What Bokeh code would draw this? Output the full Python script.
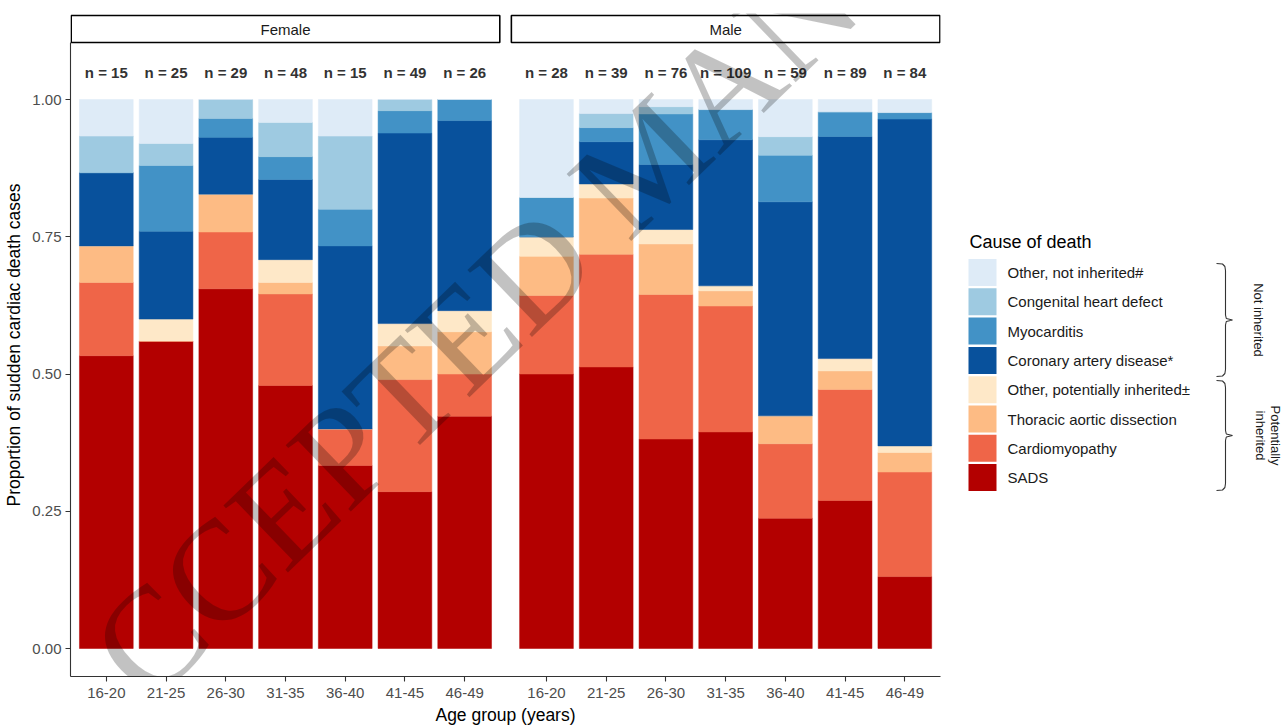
import math
from bokeh.plotting import figure
from bokeh.layouts import row
from bokeh.models import ColumnDataSource, Range1d, FixedTicker, NumeralTickFormatter, Label
from bokeh.embed import file_html
from bokeh.resources import INLINE
from bokeh.core.properties import value

# ---------------- data ----------------
ages = ["16-20", "21-25", "26-30", "31-35", "36-40", "41-45", "46-49"]
panels = ["Female", "Male"]

# stacking order, bottom -> top
causes = ["SADS", "Cardiomyopathy", "Thoracic aortic dissection",
          "Other, potentially inherited\u00b1", "Coronary artery disease*",
          "Myocarditis", "Congenital heart defect", "Other, not inherited#"]
cause_colors = ["#b30000", "#ef6548", "#fdbb84", "#fee8c8",
                "#08519c", "#4292c6", "#9ecae1", "#deebf7"]

# case counts per age group (consistent with the n labels)
female_sads = [8, 14, 19, 23, 5, 14, 11]
female_cardiomyopathy = [2, 0, 3, 8, 1, 10, 2]
female_aortic = [1, 0, 2, 1, 0, 3, 2]
female_other_inherited = [0, 1, 0, 2, 0, 2, 1]
female_cad = [2, 4, 3, 7, 5, 17, 9]
female_myocarditis = [0, 3, 1, 2, 1, 2, 1]
female_chd = [1, 1, 1, 3, 2, 1, 0]
female_other_not = [1, 2, 0, 2, 1, 0, 0]

male_sads = [14, 20, 29, 43, 14, 24, 11]
male_cardiomyopathy = [4, 8, 20, 25, 8, 18, 16]
male_aortic = [2, 4, 7, 3, 3, 3, 3]
male_other_inherited = [1, 1, 2, 1, 0, 2, 1]
male_cad = [0, 3, 9, 29, 23, 36, 50]
male_myocarditis = [2, 1, 7, 6, 5, 4, 1]
male_chd = [0, 1, 1, 0, 2, 0, 0]
male_other_not = [5, 1, 1, 2, 4, 2, 2]

female_counts = [female_sads, female_cardiomyopathy, female_aortic, female_other_inherited,
                 female_cad, female_myocarditis, female_chd, female_other_not]
male_counts = [male_sads, male_cardiomyopathy, male_aortic, male_other_inherited,
               male_cad, male_myocarditis, male_chd, male_other_not]

bracket_groups = ["Not inherited", "Potentially inherited"]

# ---------------- geometry ----------------
W1, W2, H = 945, 342, 728
BL, BR, BT, BB = 70, 5, 13, 52
frame_w = W1 - BL - BR          # 870
frame_h = H - BT - BB           # 663
PXU = 430 / 7.2                 # pixels per category unit
PYU = 549.0                     # pixels per proportion unit
y0 = -28 / PYU
y1 = y0 + frame_h / PYU
x0 = 0.4
x1 = x0 + frame_w / PXU
male_offset = round(440 / PXU, 2)

strip_bottom = (648 - 42) / PYU
strip_top = (648 - 15) / PYU
n_y = (648 - 72) / PYU

FONT = "Liberation Sans"

p = figure(width=W1, height=H, output_backend="svg", toolbar_location=None,
           x_range=Range1d(x0, x1), y_range=Range1d(y0, y1),
           min_border_left=BL, min_border_right=BR, min_border_top=BT, min_border_bottom=BB,
           outline_line_color=None, background_fill_color="white", border_fill_color="white")
# page-pixel ranges (for the watermark)
p.extra_x_ranges = {"px": Range1d(BL, BL + frame_w)}
p.extra_y_ranges = {"py": Range1d(BT + frame_h, BT)}

p.xgrid.visible = False
p.ygrid.visible = False

tick_vals = []
tick_over = {}
for sex, counts, off in (("Female", female_counts, 0.0), ("Male", male_counts, male_offset)):
    n = [sum(c[i] for c in counts) for i in range(len(ages))]
    xs = [i + 1 + off for i in range(len(ages))]
    data = {"x": xs}
    for cause, c in zip(causes, counts):
        data[cause] = [c[i] / n[i] for i in range(len(ages))]
    src = ColumnDataSource(data)
    p.vbar_stack(causes, x="x", width=0.9, color=cause_colors, source=src, line_width=0.5)
    p.text(x=xs, y=[n_y] * len(xs), text=[f"n = {v}" for v in n],
           text_align="center", text_baseline="middle", text_font=value(FONT),
           text_font_size="15px", text_font_style="bold", text_color="#333333")
    # facet strip
    p.quad(left=[x0 + off + 0.012], right=[7.6 + off - 0.012], bottom=[strip_bottom], top=[strip_top],
           fill_color="white", line_color="black", line_width=1.6)
    p.text(x=[4.0 + off], y=[(strip_bottom + strip_top) / 2], text=[sex],
           text_align="center", text_baseline="middle", text_font=value(FONT),
           text_font_size="15px", text_color="#1a1a1a")
    for x, a in zip(xs, ages):
        tick_vals.append(x)
        tick_over[x] = a

# ---------------- axes ----------------
xa = p.xaxis[0]
xa.ticker = FixedTicker(ticks=tick_vals)
xa.major_label_overrides = tick_over
xa.bounds = (x0, 7.6 + male_offset)
xa.axis_label = "Age group (years)"
ya = p.yaxis[0]
ya.ticker = FixedTicker(ticks=[0, 0.25, 0.5, 0.75, 1.0])
ya.formatter = NumeralTickFormatter(format="0.00")
ya.bounds = (y0, strip_bottom)
ya.axis_label = "Proportion of sudden cardiac death cases"
for ax in (xa, ya):
    ax.axis_line_color = "#333333"
    ax.axis_line_width = 1.1
    ax.major_tick_line_color = "#333333"
    ax.major_tick_line_width = 1.1
    ax.major_tick_out = 5
    ax.major_tick_in = 0
    ax.minor_tick_line_color = None
    ax.major_label_text_font = FONT
    ax.major_label_text_font_size = "15px"
    ax.major_label_text_color = "#4d4d4d"
    ax.axis_label_text_font = FONT
    ax.axis_label_text_font_size = "17.5px"
    ax.axis_label_text_font_style = "normal"
    ax.axis_label_text_color = "black"
xa.major_label_standoff = 6
xa.axis_label_standoff = 4
ya.major_label_standoff = 4
ya.axis_label_standoff = 5

# ---------------- watermark ----------------
wm = Label(x=647, y=158, x_range_name="px", y_range_name="py", text="ACCEPTED MANUSCRIPT",
           angle=math.radians(44), text_align="center", text_baseline="middle",
           text_font="Liberation Serif", text_font_size="142px",
           text_color="black", text_alpha=0.24)
p.add_layout(wm)

# ---------------- legend panel (page-pixel coordinates) ----------------
# in a row the frames are aligned, so this frame spans the same rows as the chart frame
lg = figure(width=W2, height=H, output_backend="svg", toolbar_location=None,
            x_range=Range1d(W1, W1 + W2), y_range=Range1d(BT + frame_h, BT),
            x_axis_location=None, y_axis_location=None,
            min_border_left=0, min_border_right=0, min_border_top=BT, min_border_bottom=BB,
            outline_line_color=None, background_fill_color="white", border_fill_color="white")
lg.xgrid.visible = False
lg.ygrid.visible = False

leg_causes = causes[::-1]
leg_colors = cause_colors[::-1]
cy = [272 + i * 29.3 for i in range(len(leg_causes))]
lg.quad(left=[968] * 8, right=[996] * 8, top=[c - 13.5 for c in cy], bottom=[c + 13.5 for c in cy],
        fill_color=leg_colors, line_color=None)
lg.text(x=[1007] * 8, y=cy, text=leg_causes, text_align="left", text_baseline="middle",
        text_font=value(FONT), text_font_size="15px", text_color="#1a1a1a")
lg.text(x=[969], y=[241], text=["Cause of death"], text_align="left", text_baseline="middle",
        text_font=value(FONT), text_font_size="18px", text_color="black")


def brace(top, bottom, x=1225):
    mid = (top + bottom) / 2
    xs = [x - 9, x - 3, x - 0.6, x, x, x + 0.8, x + 7, x + 0.8, x, x, x - 0.6, x - 3, x - 9]
    ys = [top, top + 0.5, top + 3, top + 7, mid - 5, mid - 1.5, mid,
          mid + 1.5, mid + 5, bottom - 7, bottom - 3, bottom - 0.5, bottom]
    return xs, ys


b1 = brace(263, 376)
b2 = brace(380, 490)
lg.multi_line(xs=[b1[0], b2[0]], ys=[b1[1], b2[1]], line_color="#333333", line_width=1.1)
lg.text(x=[1258, 1275, 1260], y=[319.5, 435, 435],
        text=[bracket_groups[0], "Potentially", "inherited"],
        angle=-math.pi / 2, text_align="center", text_baseline="middle",
        text_font=value(FONT), text_font_size="13px", text_color="#1a1a1a")

layout = row(p, lg)
open("out.html", "w").write(file_html(layout, INLINE))
